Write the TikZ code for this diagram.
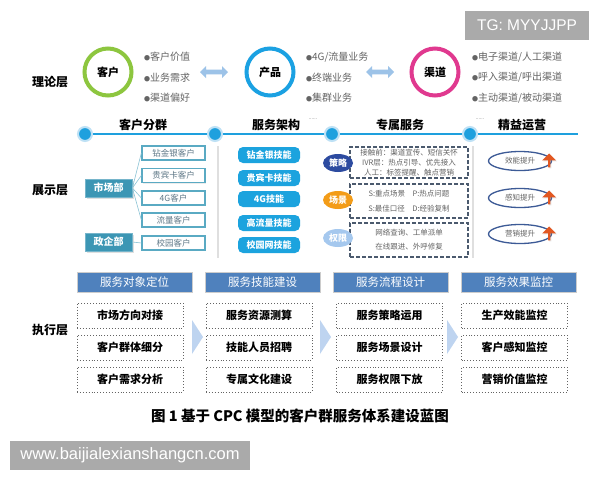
\documentclass[tikz,border=0pt]{standalone}
\usepackage{fontspec}
\setmainfont{Noto Sans CJK SC}
\newfontfamily\wmfont{Liberation Sans}
\usetikzlibrary{shapes.geometric,shapes.arrows,shadows}

\definecolor{ringgreen}{RGB}{141,198,63}
\definecolor{ringblue}{RGB}{27,161,226}
\definecolor{ringpink}{RGB}{224,57,143}
\definecolor{txtgray}{RGB}{100,100,100}
\definecolor{arrowpale}{RGB}{157,195,232}
\definecolor{tlblue}{RGB}{30,160,222}
\definecolor{tlpale}{RGB}{190,225,245}
\definecolor{custteal}{RGB}{90,170,195}
\definecolor{custtext}{RGB}{95,120,135}
\definecolor{deptteal}{RGB}{60,150,180}
\definecolor{skillblue}{RGB}{28,163,222}
\definecolor{dashslate}{RGB}{75,90,110}
\definecolor{stratblue}{RGB}{45,75,160}
\definecolor{sceneorange}{RGB}{243,156,24}
\definecolor{rightpale}{RGB}{165,200,238}
\definecolor{ellblue}{RGB}{60,90,150}
\definecolor{uparrow}{RGB}{226,88,34}
\definecolor{hdrblue}{RGB}{79,129,189}
\definecolor{chevblue}{RGB}{190,212,240}
\definecolor{wmgray}{RGB}{170,170,170}

\newcommand{\bul}{{\color{txtgray}\fontsize{6}{6}\selectfont ●}}

\tikzset{every picture/.style={line width=0.75pt}}
\tikzset{
  layer/.style={inner sep=0.75pt, font=\bfseries\fontsize{12}{14}\selectfont},
  ring/.style={circle, line width=4pt, minimum size=47pt, inner sep=0pt, fill=white, font=\bfseries\fontsize{11}{12}\selectfont},
  bullets/.style={anchor=west, align=left, inner sep=0.75pt, text=txtgray, font=\fontsize{10}{20.5}\selectfont},
  twoway/.style={double arrow, fill=arrowpale, minimum height=28pt, minimum width=12pt, double arrow head extend=2pt, inner sep=1pt},
  tldot/.style={circle, fill=tlblue, draw=tlpale, line width=2pt, minimum size=14pt, inner sep=0pt},
  tltitle/.style={inner sep=0.75pt, font=\bfseries\fontsize{12}{14}\selectfont},
  tldots/.style={inner sep=0pt, text=txtgray, font=\fontsize{5}{5}\selectfont},
  custbox/.style={draw=custteal, line width=1.3pt, fill=white, minimum width=63pt, minimum height=14pt, inner sep=0pt, text=custtext, font=\fontsize{8.5}{9}\selectfont, drop shadow={opacity=0.15, shadow xshift=1pt, shadow yshift=-1pt}},
  deptbox/.style={fill=deptteal, draw=deptteal!70!white, minimum width=47pt, minimum height=18pt, inner sep=0pt, text=white, font=\bfseries\fontsize{10}{11}\selectfont, drop shadow={opacity=0.25, shadow xshift=1.5pt, shadow yshift=-1.5pt}},
  fan/.style={draw=custteal!70, line width=0.6pt},
  skillbox/.style={rounded corners=5pt, fill=skillblue, minimum width=62pt, minimum height=16pt, inner sep=0pt, text=white, font=\bfseries\fontsize{9}{10}\selectfont},
  dashbox/.style={draw=dashslate, line width=1.5pt, dash pattern=on 4pt off 2pt, minimum width=118pt, align=center, inner sep=0pt, text=txtgray, font=\fontsize{7.5}{10}\selectfont},
  tagoval/.style={ellipse, minimum width=30pt, minimum height=18pt, inner sep=0pt, text=white, font=\bfseries\fontsize{9}{10}\selectfont},
  leanoval/.style={ellipse, draw=ellblue, line width=1.3pt, fill=white, minimum width=63pt, minimum height=19pt, inner sep=0pt, text=txtgray, font=\fontsize{7.5}{8}\selectfont},
  liftarrow/.style={single arrow, shape border rotate=90, fill=uparrow, minimum width=14pt, minimum height=14pt, single arrow head extend=2pt, inner sep=0pt, drop shadow={opacity=0.2, shadow xshift=1pt, shadow yshift=-1pt}},
  hdrbox/.style={fill=hdrblue, draw=gray!40, line width=1pt, minimum width=115pt, minimum height=20pt, inner sep=0pt, text=white, font=\fontsize{11.5}{12}\selectfont, drop shadow={opacity=0.2, shadow xshift=1pt, shadow yshift=-1pt}},
  taskbox/.style={draw=txtgray, dotted, line width=0.9pt, minimum width=106pt, minimum height=25pt, inner sep=0pt, font=\bfseries\fontsize{11}{12}\selectfont},
  wmbox/.style={fill=wmgray, inner sep=0pt, text=white, font=\wmfont}
}

\begin{document}
\begin{tikzpicture}[x=1pt,y=1pt,yscale=-1,xscale=1]
\useasboundingbox (0,0) rectangle (600,480);
\fill[white] (0,0) rectangle (600,480);

% Layer labels
\draw (50,82) node [layer] (lTheory) {理论层};
\draw (50,190) node [layer] (lShow) {展示层};
\draw (50,330) node [layer] (lExec) {执行层};

% Watermark top
\draw (527,25) node [wmbox, minimum width=124pt, minimum height=29pt, font=\wmfont\fontsize{15.5}{16}\selectfont] (wmTop) {TG: MYYJJPP};

%% Theory layer: C - P - C
\draw (108,72) node [ring, draw=ringgreen] (cust) {客户};
\draw (270,72) node [ring, draw=ringblue] (prod) {产品};
\draw (435,72) node [ring, draw=ringpink] (chan) {渠道};
% Bullet lists
\draw (143,77.5) node [bullets] (custList) {\bul 客户价值\\\bul 业务需求\\\bul 渠道偏好};
\draw (305,77.5) node [bullets] (prodList) {\bul 4G/流量业务\\\bul 终端业务\\\bul 集群业务};
\draw (471,77.5) node [bullets] (chanList) {\bul 电子渠道/人工渠道\\\bul 呼入渠道/呼出渠道\\\bul 主动渠道/被动渠道};
% Double arrows
\draw (214,72) node [twoway] (arrCP) {};
\draw (380,72) node [twoway] (arrPC) {};

%% Timeline
\coordinate (t1) at (85,134);
\coordinate (t2) at (215,134);
\coordinate (t3) at (332,134);
\coordinate (t4) at (470,134);
\coordinate (tEnd) at (578,134);
\draw [draw=tlblue, line width=2.5pt] (t1) -- (tEnd);
\foreach \t in {t1,t2,t3,t4}
  \draw (\t) node [tldot] (\t dot) {};
\draw (143,125) node [tltitle] (ttGroup) {客户分群};
\draw (276,125) node [tltitle] (ttArch) {服务架构};
\draw (400,125) node [tltitle] (ttExcl) {专属服务};
\draw (522,125) node [tltitle] (ttLean) {精益运营};
\draw (313,119) node [tldots] (dotsA) {......};
\draw (480,119) node [tldots] (dotsB) {......};

% Separators
\draw [gray!25, line width=1.5pt] (218,146) -- (218,258);
\draw [gray!25, line width=1.5pt] (473,146) -- (473,258);

%% Customer groups
\foreach \n/\y/\txt in {c1/153/钻金银客户, c2/175.5/贵宾卡客户, c3/198/4G客户, c4/220/流量客户, c5/243/校园客户}
  \draw (173.5,\y) node [custbox] (\n) {\txt};
\draw (108.5,188) node [deptbox] (mkt) {市场部};
\draw (108.5,242) node [deptbox] (gov) {政企部};
\foreach \n in {c1,c2,c3,c4}
  \draw [fan] (mkt.east) -- (\n.west);
\draw [fan] (gov.east) -- (c5.west);

%% Service architecture
\foreach \n/\y/\txt in {s1/155/钻金银技能, s2/178/贵宾卡技能, s3/199/4G技能, s4/223/高流量技能, s5/245/校园网技能}
  \draw (269,\y) node [skillbox] (\n) {\txt};

%% Exclusive service
\draw (409,162.5) node [dashbox, minimum height=31pt] (exA) {接触前：渠道宣传、短信关怀\\IVR层：热点引导、优先接入\\人工：标签提醒、触点营销};
\draw (409,201) node [dashbox, minimum height=34pt, font=\fontsize{7.5}{15}\selectfont] (exB) {S:重点场景\quad P:热点问题\\S:最佳口径\quad D:经验复制};
\draw (409,240) node [dashbox, minimum height=34pt, font=\fontsize{7.5}{14}\selectfont] (exC) {网络查询、工单派单\\在线跟进、外呼修复};
\draw (338,163) node [tagoval, fill=stratblue] (tagA) {策略};
\draw (338,200) node [tagoval, fill=sceneorange] (tagB) {场景};
\draw (338,238) node [tagoval, fill=rightpale] (tagC) {权限};

%% Lean operation
\foreach \n/\y/\txt in {o1/161/效能提升, o2/198/感知提升, o3/234/营销提升} {
  \draw (520,\y) node [leanoval] (\n) {\txt};
  \draw (\n.east) ++(-3,0) node [liftarrow] (\n up) {};
}

%% Execution layer
\foreach \n/\x/\txt in {h1/134.5/服务对象定位, h2/262.5/服务技能建设, h3/390.5/服务流程设计, h4/518.5/服务效果监控}
  \draw (\x,282) node [hdrbox] (\n) {\txt};
\foreach \n/\x/\ta/\tb/\tc in {k1/130/市场方向对接/客户群体细分/客户需求分析,
                              k2/259/服务资源测算/技能人员招聘/专属文化建设,
                              k3/389.5/服务策略运用/服务场景设计/服务权限下放,
                              k4/514.5/生产效能监控/客户感知监控/营销价值监控} {
  \draw (\x,315.5) node [taskbox] (\n a) {\ta};
  \draw (\x,347.5) node [taskbox] (\n b) {\tb};
  \draw (\x,379.5) node [taskbox] (\n c) {\tc};
}
% Chevrons
\foreach \x in {192,320,447}
  \fill [chevblue] (\x,320) -- (\x+11,337) -- (\x,354) -- cycle;

% Caption
\draw (300,416) node [inner sep=0.75pt, font=\bfseries\fontsize{14.5}{16}\selectfont] (caption) {图 1\ 基于 CPC 模型的客户群服务体系建设蓝图};

% Watermark bottom
\draw (130,455) node [wmbox, minimum width=240pt, minimum height=29pt, font=\wmfont\fontsize{16.5}{17}\selectfont] (wmBottom) {www.baijialexianshangcn.com};

\end{tikzpicture}
\end{document}
